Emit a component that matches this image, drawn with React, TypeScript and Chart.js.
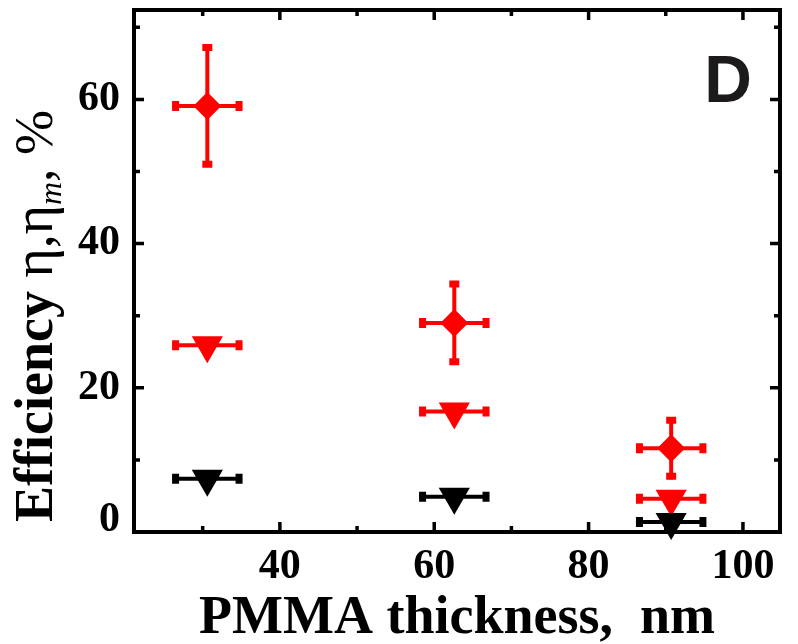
import React, { useEffect, useRef } from 'react';
import { Chart, registerables } from 'chart.js';

Chart.register(...registerables);

// ---- data ----
const thickness = [30.6, 62.6, 90.7];
const thicknessErr = [4.5, 4.5, 4.5];
const etaMDiamond = [59.1, 29.0, 11.6];
const etaMDiamondErr = [8.5, 5.8, 4.3];
const etaMTriangle = [25.9, 16.7, 4.6];
const etaTriangle = [7.4, 4.9, 1.4];

const xRange = [21.1, 104.8];
const yRange = [0, 72.4];
const xMajorTicks = [40, 60, 80, 100];
const yMajorTicks = [0, 20, 40, 60];
const xTitle = 'PMMA thickness,  nm';
const yTitleMain = 'Efficiency ';
const yTitleEta = '\u03b7,\u03b7';
const yTitleSub = 'm';
const yTitleEnd = ', %';
const panelLabel = 'D';

const SERIF = '"Liberation Serif", "Times New Roman", serif';
const RED = '#ff0000';
const BLACK = '#000000';

const errorBars: Record<number, { xErr: number[]; yErr?: number[] }> = {
  0: { xErr: thicknessErr },
  1: { xErr: thicknessErr },
  2: { xErr: thicknessErr, yErr: etaMDiamondErr },
};

const errorBarPlugin = {
  id: 'errorBars',
  beforeDatasetDraw(chart: any, args: any) {
    const eb = errorBars[args.index];
    if (!eb) return;
    const ds = chart.data.datasets[args.index];
    const { ctx, scales } = chart;
    const xs = scales.x;
    const ys = scales.y;
    ctx.save();
    ctx.strokeStyle = ds.backgroundColor;
    ctx.lineCap = 'butt';
    ds.data.forEach((p: any, i: number) => {
      const px = xs.getPixelForValue(p.x);
      const py = ys.getPixelForValue(p.y);
      const x0 = xs.getPixelForValue(p.x - eb.xErr[i]);
      const x1 = xs.getPixelForValue(p.x + eb.xErr[i]);
      ctx.lineWidth = 4;
      ctx.beginPath();
      ctx.moveTo(x0, py);
      ctx.lineTo(x1, py);
      ctx.stroke();
      ctx.lineWidth = 7;
      ctx.beginPath();
      ctx.moveTo(x0 + 3, py - 5);
      ctx.lineTo(x0 + 3, py + 5);
      ctx.moveTo(x1 - 3, py - 5);
      ctx.lineTo(x1 - 3, py + 5);
      ctx.stroke();
      if (eb.yErr) {
        const y0 = ys.getPixelForValue(p.y - eb.yErr[i]);
        const y1 = ys.getPixelForValue(p.y + eb.yErr[i]);
        ctx.lineWidth = 4;
        ctx.beginPath();
        ctx.moveTo(px, y0);
        ctx.lineTo(px, y1);
        ctx.stroke();
        ctx.lineWidth = 7;
        ctx.beginPath();
        ctx.moveTo(px - 5, y0 - 3);
        ctx.lineTo(px + 5, y0 - 3);
        ctx.moveTo(px - 5, y1 + 3);
        ctx.lineTo(px + 5, y1 + 3);
        ctx.stroke();
      }
    });
    ctx.restore();
  },
};

const framePlugin = {
  id: 'frame',
  afterDatasetsDraw(chart: any) {
    const { ctx, chartArea: a, scales } = chart;
    const xs = scales.x;
    const ys = scales.y;
    ctx.save();
    ctx.strokeStyle = BLACK;
    ctx.lineWidth = 4;
    ctx.lineJoin = 'miter';
    ctx.strokeRect(a.left, a.top, a.right - a.left, a.bottom - a.top);
    ctx.lineWidth = 3.5;
    ctx.beginPath();
    xs.ticks.forEach((t: any) => {
      const px = xs.getPixelForValue(t.value);
      const len = xMajorTicks.includes(t.value) ? 10 : 6;
      ctx.moveTo(px, a.bottom);
      ctx.lineTo(px, a.bottom - len);
      ctx.moveTo(px, a.top);
      ctx.lineTo(px, a.top + len);
    });
    ys.ticks.forEach((t: any) => {
      const py = ys.getPixelForValue(t.value);
      const len = yMajorTicks.includes(t.value) ? 10 : 6;
      ctx.moveTo(a.left, py);
      ctx.lineTo(a.left + len, py);
      ctx.moveTo(a.right, py);
      ctx.lineTo(a.right - len, py);
    });
    ctx.stroke();
    ctx.restore();
  },
};

const textPlugin = {
  id: 'texts',
  afterDraw(chart: any) {
    const { ctx, chartArea: a } = chart;
    ctx.save();
    // panel letter
    ctx.fillStyle = '#1c1a1a';
    ctx.font = 'bold 66px "Liberation Sans", Arial, sans-serif';
    ctx.textAlign = 'right';
    ctx.textBaseline = 'alphabetic';
    ctx.fillText(panelLabel, a.right - 28, a.top + 92);
    ctx.restore();

    // rotated y title with subscript
    ctx.save();
    ctx.translate(52, 522);
    ctx.rotate(-Math.PI / 2);
    ctx.fillStyle = BLACK;
    ctx.textAlign = 'left';
    ctx.textBaseline = 'alphabetic';
    let x = 0;
    ctx.font = 'bold 54px ' + SERIF;
    ctx.fillText(yTitleMain, x, 0);
    x += ctx.measureText(yTitleMain).width;
    ctx.font = '56px ' + SERIF;
    ctx.fillText(yTitleEta, x, 0);
    x += ctx.measureText(yTitleEta).width;
    ctx.font = 'italic 32px ' + SERIF;
    ctx.fillText(yTitleSub, x, 9);
    x += ctx.measureText(yTitleSub).width;
    ctx.font = '54px ' + SERIF;
    ctx.fillText(yTitleEnd, x, 0);
    ctx.restore();
  },
};

export default function App() {
  const ref = useRef<HTMLCanvasElement>(null);

  useEffect(() => {
    document.body.style.margin = '0';
    const canvas = ref.current;
    if (!canvas) return;
    const chart = new Chart(canvas, {
      type: 'scatter',
      data: {
        datasets: [
          {
            label: '\u03b7',
            data: thickness.map((x, i) => ({ x, y: etaTriangle[i] })),
            backgroundColor: BLACK,
            borderColor: BLACK,
            borderWidth: 0,
            pointStyle: 'triangle',
            rotation: 180,
            pointRadius: 18,
            clip: false,
          } as any,
          {
            label: '\u03b7m',
            data: thickness.map((x, i) => ({ x, y: etaMTriangle[i] })),
            backgroundColor: RED,
            borderColor: RED,
            borderWidth: 0,
            pointStyle: 'triangle',
            rotation: 180,
            pointRadius: 18,
            clip: false,
          } as any,
          {
            label: '\u03b7m max',
            data: thickness.map((x, i) => ({ x, y: etaMDiamond[i] })),
            backgroundColor: RED,
            borderColor: RED,
            borderWidth: 0,
            pointStyle: 'rectRot',
            pointRadius: 14,
            clip: false,
          } as any,
        ],
      },
      options: {
        animation: false,
        responsive: false,
        events: [],
        layout: { autoPadding: false, padding: { top: 10, right: 18, left: 0, bottom: 0 } },
        plugins: {
          legend: { display: false },
          tooltip: { enabled: false },
        },
        scales: {
          x: {
            type: 'linear',
            position: 'bottom',
            min: xRange[0],
            max: xRange[1],
            grid: { display: false, drawTicks: false },
            border: { display: false },
            ticks: {
              stepSize: 10,
              includeBounds: false,
              autoSkip: false,
              maxRotation: 0,
              padding: 10,
              color: BLACK,
              font: { family: SERIF, size: 42, weight: 'bold' },
              callback: (v: any) => (xMajorTicks.includes(v) ? String(v) : ''),
            },
            title: {
              display: true,
              text: xTitle,
              color: BLACK,
              font: { family: SERIF, size: 54, weight: 'bold', lineHeight: '50px' },
              padding: 0,
            },
            afterFit: (s: any) => {
              s.height = 112;
              s.paddingLeft = 0;
              s.paddingRight = 0;
            },
          },
          y: {
            type: 'linear',
            position: 'left',
            min: yRange[0],
            max: yRange[1],
            grid: { display: false, drawTicks: false },
            border: { display: false },
            ticks: {
              stepSize: 10,
              includeBounds: false,
              autoSkip: false,
              padding: 14,
              color: BLACK,
              font: (c: any) => ({
                family: SERIF,
                size: 42,
                weight: 'bold',
                lineHeight: c.tick && c.tick.value === 0 ? '24px' : 1.2,
              }),
              callback: (v: any) =>
                yMajorTicks.includes(v) ? (v === 0 ? ['0', ''] : String(v)) : '',
            },
            afterFit: (s: any) => {
              s.width = 134;
              s.paddingTop = 0;
              s.paddingBottom = 0;
            },
          },
        },
      } as any,
      plugins: [errorBarPlugin, framePlugin, textPlugin],
    });
    return () => chart.destroy();
  }, []);

  return (
    <div style={{ position: 'absolute', left: 0, top: 0, width: 798, height: 644, background: '#fff' }}>
      <canvas ref={ref} width={798} height={644} style={{ display: 'block' }} />
    </div>
  );
}
